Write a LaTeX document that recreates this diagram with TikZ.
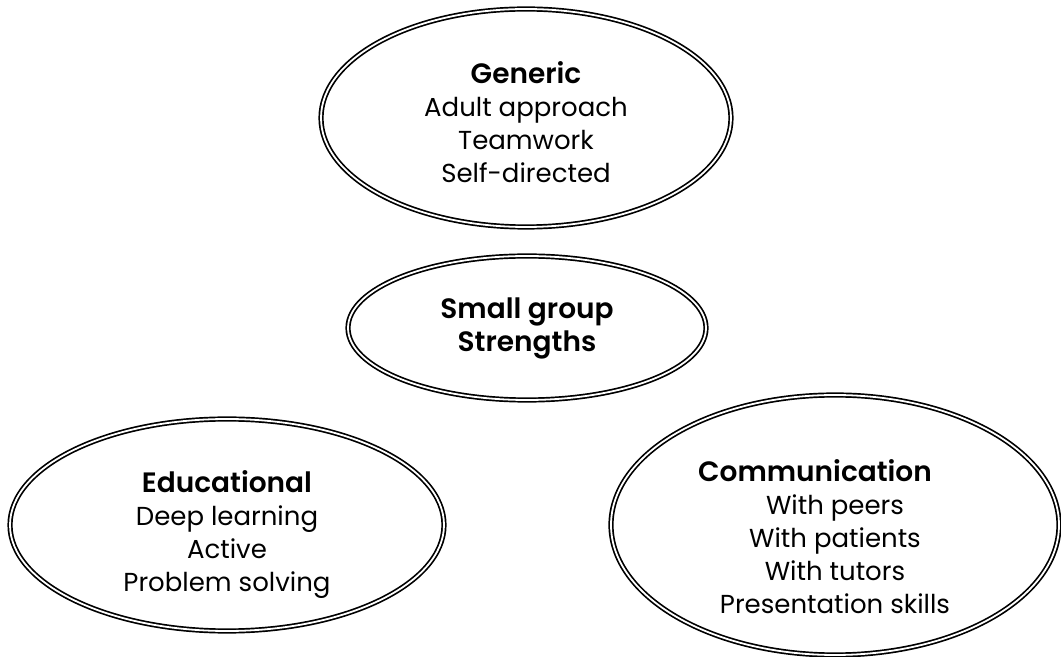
\documentclass[tikz,border=0pt]{standalone}
\usepackage{fontspec}
\setmainfont{Poppins}[BoldFont={Poppins SemiBold}]
\usetikzlibrary{shapes.geometric}
\tikzset{
  blob/.style={ellipse,draw=black,line width=0.85pt,double,double distance=0.9pt,inner sep=0pt},
  txt/.style={align=center,font=\fontsize{13}{16.5}\selectfont},
}
\newcommand{\ttl}[1]{{\bfseries\fontsize{14}{16.5}\selectfont #1}}
\begin{document}
\begin{tikzpicture}[x=0.5pt,y=-0.5pt]
    \useasboundingbox (0,0) rectangle (1061,657);
    % Generic
    \node[blob,minimum width=205pt,minimum height=109pt] (generic) at (526,118) {};
    \node[txt] (generictxt) at (526,122) {\ttl{Generic}\\Adult approach\\Teamwork\\Self-directed};
    % Small group strengths
    \node[blob,minimum width=179pt,minimum height=72pt] (strengths) at (527,328) {};
    \node[txt] (strengthstxt) at (527,328) {\ttl{Small group}\\\ttl{Strengths}};
    % Educational
    \node[blob,minimum width=217pt,minimum height=106pt] (educational) at (227,525) {};
    \node[txt] (educationaltxt) at (227,535) {\ttl{Educational}\\Deep learning\\Active\\Problem solving};
    % Communication
    \node[blob,minimum width=224pt,minimum height=130pt] (communication) at (835,525) {};
    \node[txt] (communicationtxt) at (835,537) {\ttl{Communication}\hspace*{20pt}\\With peers\\With patients\\With tutors\\Presentation skills};
\end{tikzpicture}
\end{document}
